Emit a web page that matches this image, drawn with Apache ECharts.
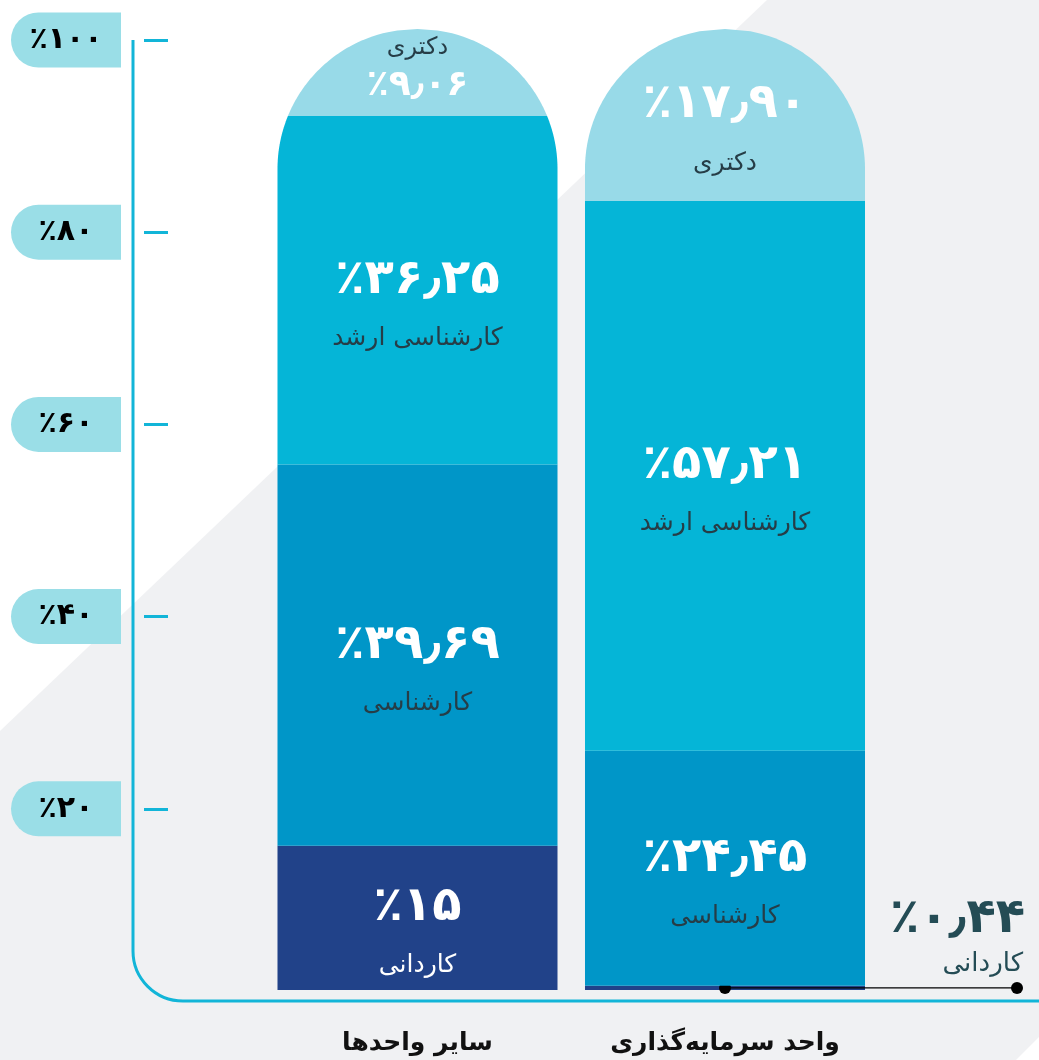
<!DOCTYPE html>
<html><head><meta charset="utf-8">
<script src="https://cdn.jsdelivr.net/npm/echarts@6/dist/echarts.min.js"></script>
<style>html,body{margin:0;padding:0;background:#f0f1f3}#c{width:1039px;height:1060px}</style>
</head><body><div id="c"></div>
<script>
// ---- data ----
const categories = ['سایر واحدها', 'واحد سرمایه‌گذاری'];
const levels = ['کاردانی', 'کارشناسی', 'کارشناسی ارشد', 'دکتری'];
const kardani = [15, 0.44];
const karshenasi = [39.69, 24.45];
const arshad = [36.25, 57.21];
const doktori = [9.06, 17.90];
const tickValues = [20, 40, 60, 80, 100];
const tickLabels = ['٪۲۰', '٪۴۰', '٪۶۰', '٪۸۰', '٪۱۰۰'];

// ---- styles ----
const seriesValues = [kardani, karshenasi, arshad, doktori];
const fills = ['#214289', '#0096c8', '#05b5d7', '#98dae8'];
const nameColors = ['#ffffff', '#263d47', '#263d47', '#263d47'];
const FONT = "'DejaVu Sans', sans-serif";
const AXIS_COLOR = '#12b5d8';
const BAR_RATIO = 0.9106;

function fa(s) { return String(s).replace(/\d/g, d => '۰۱۲۳۴۵۶۷۸۹'[d]).replace('.', '٫'); }
function pct(v) { return '٪' + fa(Number.isInteger(v) ? String(v) : v.toFixed(2)); }

const totals = categories.map((_, i) => seriesValues.reduce((s, arr) => s + arr[i], 0));

function makeRender(li) {
  return function (params, api) {
    const ci = api.value(0), base = api.value(1), val = api.value(2);
    const pb = api.coord([ci, base]), pt = api.coord([ci, base + val]);
    const ytop = api.coord([ci, totals[ci]])[1];
    const bw = api.size([1, 0])[0] * BAR_RATIO;
    const xc = pb[0], R = bw / 2, cy = ytop + R;
    const y0 = pb[1], y1 = pt[1];
    const hw = y => y >= cy ? R : Math.sqrt(Math.max(0, R * R - (cy - y) * (cy - y)));
    const ys = [];
    const N = 60;
    if (y1 < cy) {
      const yEnd = Math.min(y0, cy);
      for (let k = 0; k <= N; k++) ys.push(y1 + (yEnd - y1) * k / N);
      if (y0 > cy) ys.push(y0);
    } else { ys.push(y1, y0); }
    const pts = [];
    for (let k = ys.length - 1; k >= 0; k--) pts.push([xc - hw(ys[k]), ys[k]]);
    for (let k = 0; k < ys.length; k++) pts.push([xc + hw(ys[k]), ys[k]]);
    const children = [{ type: 'polygon', shape: { points: pts }, style: { fill: fills[li] } }];
    const h = y0 - y1, ym = (y0 + y1) / 2;
    const numText = pct(val), nameText = levels[li];
    const txt = (x, y, text, size, weight, color, align) => ({
      type: 'text', x: x, y: y,
      style: { text: text, fontSize: size, fontWeight: weight, fontFamily: FONT, fill: color,
               align: align || 'center', verticalAlign: 'middle' }
    });
    if (h < 20) {
      const xEnd = xc + R + 152;
      children.push({ type: 'line', shape: { x1: xc, y1: ym, x2: xEnd, y2: ym }, style: { stroke: '#000', lineWidth: 1.2 } });
      children.push({ type: 'circle', shape: { cx: xc, cy: ym, r: 6 }, style: { fill: '#000' } });
      children.push({ type: 'circle', shape: { cx: xEnd, cy: ym, r: 6 }, style: { fill: '#000' } });
      children.push(txt(xEnd + 8, ym - 68, numText, 48, 'bold', '#244c55', 'right'));
      children.push(txt(xEnd + 6, ym - 24, nameText, 26, 'normal', '#244c55', 'right'));
    } else if (h < 120) {
      children.push(txt(xc, ym - 25, nameText, 24, 'normal', nameColors[li]));
      children.push(txt(xc, ym + 13, numText, 36, 'bold', '#ffffff'));
    } else {
      children.push(txt(xc, ym - 10, numText, 48, 'bold', '#ffffff'));
      children.push(txt(xc, ym + 48, nameText, 25, 'normal', nameColors[li]));
    }
    return { type: 'group', children: children };
  };
}

const series = seriesValues.map((vals, li) => ({
  type: 'custom',
  name: levels[li],
  xAxisIndex: 0, yAxisIndex: 0,
  renderItem: makeRender(li),
  encode: { x: 0, y: 1 },
  data: vals.map((v, i) => {
    let base = 0;
    for (let k = 0; k < li; k++) base += seriesValues[k][i];
    return [i, base, v];
  }),
  z: 3
}));

const bgGraphics = [
  { type: 'polygon', z: -10, silent: true, shape: { points: [[0, 0], [767, 0], [0, 731]] }, style: { fill: '#ffffff' } },
  { type: 'polygon', z: -10, silent: true, shape: { points: [[1039, 1037], [1039, 1060], [1016, 1060]] }, style: { fill: '#ffffff' } }
];

const chart = echarts.init(document.getElementById('c'), null, { renderer: 'canvas' });
chart.setOption({
  animation: false,
  backgroundColor: '#f0f1f3',
  textStyle: { fontFamily: FONT },
  grid: [
    { left: 263.75, right: 160.25, top: 29, bottom: 70 },
    { left: 133, right: 0, top: 40, bottom: 59 }
  ],
  xAxis: [
    { type: 'category', gridIndex: 0, data: categories,
      axisLine: { show: false }, axisTick: { show: false },
      axisLabel: { interval: 0, margin: 41, fontSize: 25, fontWeight: 'bold', color: '#111', fontFamily: FONT } },
    { type: 'value', gridIndex: 1, min: 0, max: 1, show: false }
  ],
  yAxis: [
    { type: 'value', gridIndex: 0, min: 0, max: 100, show: false },
    { type: 'value', gridIndex: 1, min: 0, max: 100, interval: 20, offset: -11,
      axisLine: { show: false },
      splitLine: { show: false },
      axisTick: { show: true, inside: true, length: 24, customValues: tickValues,
                  lineStyle: { color: AXIS_COLOR, width: 3 } },
      axisLabel: {
        margin: 23, customValues: tickValues,
        formatter: v => { const i = tickValues.indexOf(v); return i < 0 ? '' : '{p|' + tickLabels[i] + '}'; },
        rich: { p: { width: 110, height: 55, lineHeight: 55, align: 'center', backgroundColor: '#9adee7',
                     borderRadius: [27.5, 0, 0, 27.5], fontSize: 30, fontWeight: 'bold', color: '#000', fontFamily: FONT } }
      } }
  ],
  graphic: bgGraphics,
  series: series
});

// decorative axis line with rounded corner
const yTop = chart.convertToPixel({ yAxisIndex: 1 }, 100);
const yBot = chart.convertToPixel({ yAxisIndex: 1 }, 0);
const xA = 133, R = 50, k = R * 0.4477;
const lineStyle = { stroke: AXIS_COLOR, lineWidth: 3, fill: null };
chart.setOption({
  graphic: bgGraphics.concat([
    { type: 'line', z: 1, silent: true, shape: { x1: xA, y1: yTop, x2: xA, y2: yBot - R }, style: lineStyle },
    { type: 'bezierCurve', z: 1, silent: true,
      shape: { x1: xA, y1: yBot - R, cpx1: xA, cpy1: yBot - k, cpx2: xA + k, cpy2: yBot, x2: xA + R, y2: yBot },
      style: lineStyle },
    { type: 'line', z: 1, silent: true, shape: { x1: xA + R, y1: yBot, x2: 1039, y2: yBot }, style: lineStyle }
  ])
});
</script>
</body></html>
